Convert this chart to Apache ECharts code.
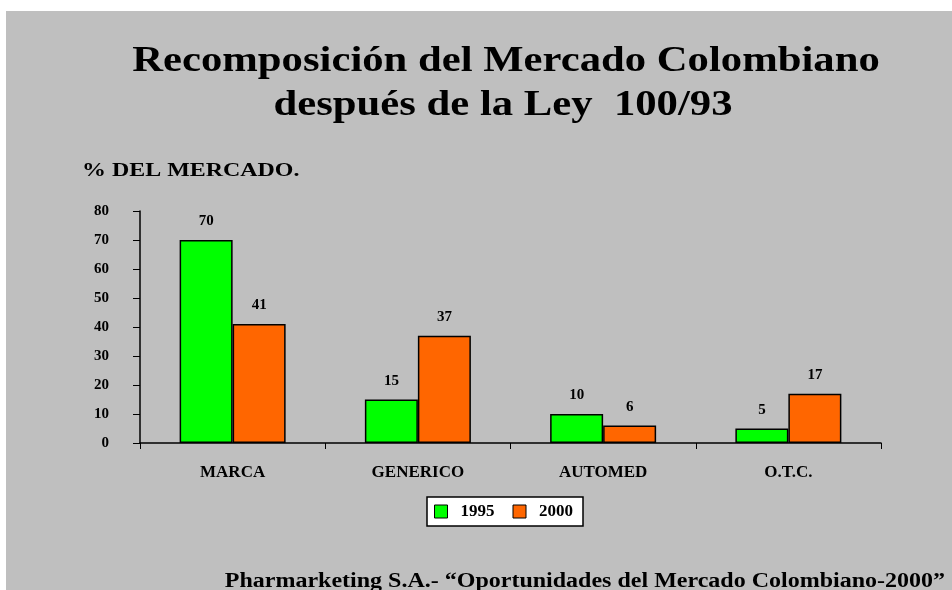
<!DOCTYPE html>
<html><head><meta charset="utf-8">
<script src="https://cdn.jsdelivr.net/npm/echarts@6/dist/echarts.min.js"></script>
<style>html,body{margin:0;padding:0;background:#fff}#c{width:952px;height:590px}</style>
</head><body><div id="c"></div>
<script>
const categories = ['MARCA', 'GENERICO', 'AUTOMED', 'O.T.C.'];
const values1995 = [70, 15, 10, 5];
const values2000 = [41, 37, 6, 17];
const seriesNames = ['1995', '2000'];
const yTicks = [0, 10, 20, 30, 40, 50, 60, 70, 80];

const FONT = '"Liberation Serif", "Times New Roman", serif';
const chart = echarts.init(document.getElementById('c'), null, {renderer: 'canvas'});
const labelStyle = {show: true, position: 'top', distance: 11, color: '#000', fontFamily: FONT, fontWeight: 'bold', fontSize: 15};
chart.setOption({
  backgroundColor: '#ffffff',
  animation: false,
  graphic: [
    {type: 'rect', left: 6, top: 11, z: -10, shape: {width: 946, height: 579}, style: {fill: '#bfbfbf'}},
    {type: 'text', x: 506, y: 44, scaleX: 1.22, style: {text: 'Recomposición del Mercado Colombiano', font: 'bold 35px ' + FONT, fill: '#000', textAlign: 'center', textVerticalAlign: 'top'}},
    {type: 'text', x: 503, y: 88, scaleX: 1.22, style: {text: 'después de la Ley  100/93', font: 'bold 35px ' + FONT, fill: '#000', textAlign: 'center', textVerticalAlign: 'top'}},
    {type: 'text', x: 82, y: 162, scaleX: 1.33, style: {text: '% DEL MERCADO.', font: 'bold 18px ' + FONT, fill: '#000', textAlign: 'left', textVerticalAlign: 'top'}},
    {type: 'text', x: 945, y: 572, scaleX: 1.2, style: {text: 'Pharmarketing S.A.- “Oportunidades del Mercado Colombiano-2000”', font: 'bold 20px ' + FONT, fill: '#000', textAlign: 'right', textVerticalAlign: 'top'}}
  ],
  grid: {left: 140, right: 71, top: 211, bottom: 147},
  legend: {
    data: seriesNames,
    left: 427, top: 497,
    backgroundColor: '#fff', borderColor: '#000', borderWidth: 1.5,
    padding: [6, 10, 6, 7],
    itemWidth: 13, itemHeight: 13, itemGap: 18,
    icon: 'rect',
    itemStyle: {borderColor: '#000', borderWidth: 1},
    formatter: '{t|{name}}',
    textStyle: {color: '#000', fontFamily: FONT, fontWeight: 'bold', fontSize: 17,
      rich: {t: {fontFamily: FONT, fontWeight: 'bold', fontSize: 17, color: '#000', padding: [0, 0, 0, 8]}}}
  },
  xAxis: {
    type: 'category', data: categories,
    axisLine: {lineStyle: {color: '#000', width: 1.5}},
    axisTick: {show: true, length: 6, inside: false, lineStyle: {color: '#000'}},
    axisLabel: {color: '#000', fontFamily: FONT, fontWeight: 'bold', fontSize: 17, margin: 21}
  },
  yAxis: {
    type: 'value', min: 0, max: 80, interval: 10,
    splitLine: {show: false},
    axisLine: {show: true, lineStyle: {color: '#000', width: 1.5}},
    axisTick: {show: true, length: 7, lineStyle: {color: '#000'}},
    axisLabel: {color: '#000', fontFamily: FONT, fontWeight: 'bold', fontSize: 15, margin: 31,
      formatter: v => yTicks.includes(v) ? String(v) : ''}
  },
  series: [
    {name: seriesNames[0], type: 'bar', data: values1995, barWidth: 53, barGap: '0%',
      itemStyle: {color: '#00ff00', borderColor: '#000', borderWidth: 1.5}, label: labelStyle},
    {name: seriesNames[1], type: 'bar', data: values2000, barWidth: 53,
      itemStyle: {color: '#ff6600', borderColor: '#000', borderWidth: 1.5}, label: labelStyle}
  ]
});
</script></body></html>
